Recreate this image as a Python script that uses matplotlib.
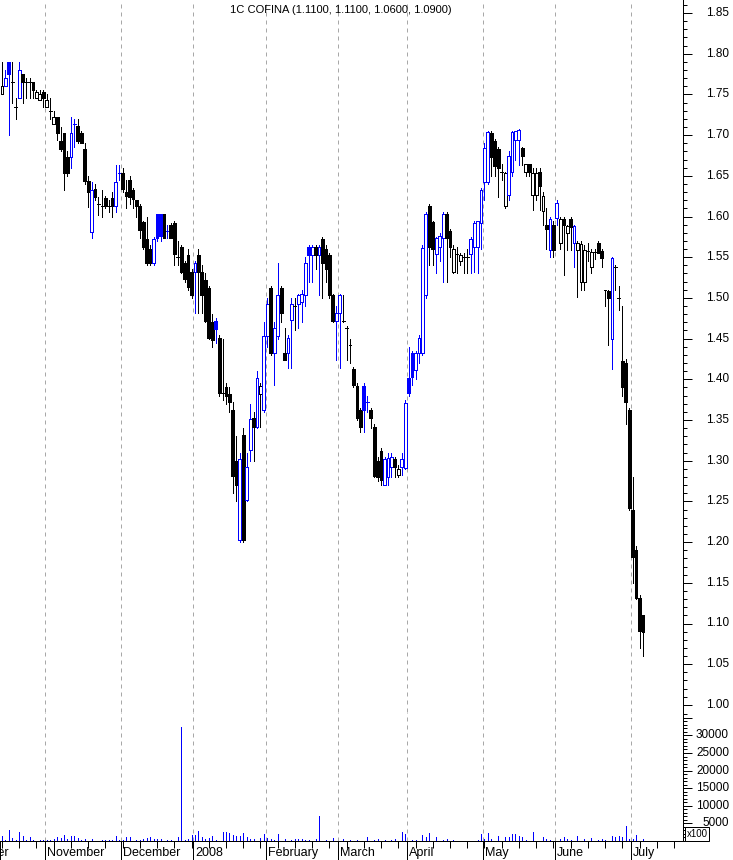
import matplotlib
matplotlib.use("Agg")
import matplotlib.pyplot as plt
from matplotlib.patches import Rectangle
from matplotlib.ticker import MultipleLocator
import matplotlib.transforms as mtransforms

# ---------------- data ----------------
title = "1C COFINA (1.1100, 1.1100, 1.0600, 1.0900)"
month_names = ["October", "November", "December", "2008", "February", "March",
               "April", "May", "June", "July"]
month_counts = [13, 22, 21, 21, 21, 20, 22, 21, 22, 4]
prev_close = 1.77

opens = [
    # Oct
    1.75, 1.76, 1.79, 1.765, 1.735, 1.745, 1.775, 1.765, 1.765, 1.765, 1.745, 1.743, 1.753,
    # Nov
    1.735, 1.73, 1.714, 1.722, 1.693, 1.703, 1.673, 1.673, 1.714, 1.711, 1.703, 1.683, 1.644,
    1.581, 1.634, 1.615, 1.613, 1.623, 1.613, 1.623, 1.613, 1.654,
    # Dec
    1.654, 1.63, 1.645, 1.633, 1.620, 1.613, 1.593, 1.572, 1.56, 1.543, 1.603, 1.603, 1.603,
    1.582, 1.59, 1.592, 1.55, 1.563, 1.543, 1.553, 1.532,
    # Jan
    1.532, 1.553, 1.532, 1.522, 1.512, 1.47, 1.472, 1.451, 1.383, 1.39, 1.382, 1.362, 1.30,
    1.203, 1.331, 1.252, 1.313, 1.352, 1.341, 1.382, 1.362,
    # Feb
    1.453, 1.512, 1.432, 1.453, 1.512, 1.432, 1.432, 1.473, 1.49, 1.492, 1.495, 1.503, 1.563,
    1.553, 1.563, 1.553, 1.572, 1.56, 1.553, 1.503, 1.472,
    # Mar
    1.482, 1.472, 1.463, 1.442, 1.413, 1.392, 1.362, 1.392, 1.372, 1.362, 1.341, 1.30, 1.312,
    1.27, 1.28, 1.292, 1.302, 1.282, 1.292, 1.291,
    # Apr
    1.402, 1.432, 1.412, 1.432, 1.432, 1.503, 1.613, 1.593, 1.554, 1.563, 1.574, 1.603, 1.582,
    1.532, 1.554, 1.545, 1.55, 1.55, 1.554, 1.563, 1.563, 1.592,
    # May
    1.642, 1.642, 1.703, 1.693, 1.683, 1.655, 1.613, 1.626, 1.655, 1.694, 1.694, 1.684, 1.655,
    1.664, 1.626, 1.626, 1.655, 1.607, 1.59, 1.559, 1.59,
    # Jun
    1.598, 1.567, 1.597, 1.58, 1.597, 1.567, 1.559, 1.519, 1.519, 1.558, 1.538, 1.556, 1.567,
    1.558, 1.51, 1.508, 1.450, 1.538, 1.50, 1.422, 1.42, 1.362,
    # Jul
    1.24, 1.19, 1.131, 1.11,
]
highs = [
    1.79, 1.78, 1.79, 1.79, 1.745, 1.79, 1.775, 1.77, 1.77, 1.765, 1.755, 1.755, 1.755,
    1.75, 1.745, 1.73, 1.722, 1.71, 1.703, 1.68, 1.722, 1.72, 1.72, 1.705, 1.69, 1.65,
    1.642, 1.64, 1.624, 1.633, 1.625, 1.62, 1.63, 1.663, 1.663,
    1.66, 1.645, 1.65, 1.635, 1.62, 1.615, 1.595, 1.60, 1.565, 1.575, 1.603, 1.603, 1.603,
    1.59, 1.592, 1.595, 1.57, 1.565, 1.545, 1.56, 1.535,
    1.545, 1.56, 1.54, 1.53, 1.515, 1.48, 1.475, 1.455, 1.45, 1.395, 1.39, 1.372, 1.33,
    1.31, 1.34, 1.31, 1.37, 1.36, 1.41, 1.395, 1.47,
    1.50, 1.515, 1.47, 1.543, 1.515, 1.463, 1.455, 1.50, 1.50, 1.505, 1.51, 1.55, 1.565,
    1.565, 1.565, 1.565, 1.575, 1.565, 1.555, 1.505, 1.49,
    1.505, 1.503, 1.465, 1.45, 1.415, 1.395, 1.365, 1.395, 1.38, 1.365, 1.345, 1.305, 1.315,
    1.305, 1.31, 1.31, 1.305, 1.295, 1.31, 1.375,
    1.44, 1.435, 1.435, 1.455, 1.565, 1.605, 1.615, 1.595, 1.575, 1.58, 1.605, 1.605, 1.585,
    1.565, 1.562, 1.555, 1.555, 1.56, 1.575, 1.595, 1.595, 1.635,
    1.69, 1.705, 1.705, 1.695, 1.685, 1.665, 1.655, 1.68, 1.705, 1.705, 1.707, 1.685, 1.665,
    1.665, 1.66, 1.66, 1.66, 1.63, 1.61, 1.60, 1.595,
    1.62, 1.60, 1.60, 1.59, 1.60, 1.59, 1.57, 1.57, 1.565, 1.567, 1.56, 1.56, 1.57,
    1.56, 1.51, 1.51, 1.55, 1.54, 1.515, 1.49, 1.425, 1.365,
    1.28, 1.195, 1.135, 1.11,
]
lows = [
    1.75, 1.76, 1.70, 1.74, 1.72, 1.745, 1.74, 1.745, 1.745, 1.745, 1.745, 1.743, 1.735,
    1.735, 1.72, 1.714, 1.694, 1.68, 1.633, 1.65, 1.66, 1.685, 1.69, 1.69, 1.64, 1.612,
    1.574, 1.62, 1.602, 1.60, 1.61, 1.605, 1.60, 1.605, 1.645,
    1.63, 1.61, 1.615, 1.61, 1.60, 1.574, 1.56, 1.54, 1.54, 1.54, 1.57, 1.57, 1.574,
    1.574, 1.574, 1.54, 1.54, 1.53, 1.52, 1.51, 1.50,
    1.482, 1.482, 1.482, 1.47, 1.45, 1.44, 1.445, 1.38, 1.375, 1.37, 1.36, 1.26, 1.25,
    1.20, 1.20, 1.25, 1.30, 1.30, 1.34, 1.341, 1.36,
    1.44, 1.43, 1.393, 1.45, 1.47, 1.424, 1.414, 1.414, 1.46, 1.463, 1.47, 1.49, 1.52,
    1.52, 1.535, 1.503, 1.50, 1.52, 1.50, 1.47, 1.424,
    1.414, 1.47, 1.424, 1.42, 1.39, 1.35, 1.335, 1.335, 1.36, 1.34, 1.28, 1.275, 1.27,
    1.27, 1.27, 1.28, 1.28, 1.28, 1.282, 1.29,
    1.38, 1.393, 1.40, 1.42, 1.43, 1.50, 1.54, 1.54, 1.53, 1.545, 1.52, 1.52, 1.55,
    1.53, 1.53, 1.54, 1.53, 1.53, 1.53, 1.532, 1.53, 1.56,
    1.62, 1.64, 1.65, 1.65, 1.624, 1.645, 1.61, 1.62, 1.65, 1.67, 1.663, 1.663, 1.65,
    1.65, 1.608, 1.62, 1.608, 1.59, 1.56, 1.55, 1.55,
    1.59, 1.56, 1.528, 1.559, 1.559, 1.538, 1.501, 1.51, 1.51, 1.545, 1.53, 1.548, 1.555,
    1.538, 1.49, 1.442, 1.413, 1.51, 1.485, 1.38, 1.345, 1.24,
    1.15, 1.13, 1.07, 1.06,
]
closes = [
    1.76, 1.77, 1.775, 1.765, 1.735, 1.78, 1.765, 1.765, 1.765, 1.755, 1.753, 1.75, 1.745,
    1.743, 1.73, 1.722, 1.703, 1.683, 1.654, 1.654, 1.703, 1.714, 1.693, 1.69, 1.644, 1.630,
    1.633, 1.624, 1.615, 1.613, 1.613, 1.613, 1.613, 1.642, 1.654,
    1.634, 1.625, 1.624, 1.622, 1.613, 1.583, 1.562, 1.543, 1.543, 1.572, 1.574, 1.576, 1.574,
    1.582, 1.574, 1.554, 1.55, 1.532, 1.523, 1.513, 1.503,
    1.543, 1.532, 1.503, 1.472, 1.451, 1.448, 1.462, 1.383, 1.383, 1.38, 1.372, 1.281, 1.27,
    1.302, 1.203, 1.292, 1.351, 1.341, 1.402, 1.392, 1.453,
    1.492, 1.432, 1.463, 1.503, 1.482, 1.424, 1.451, 1.492, 1.49, 1.503, 1.505, 1.543, 1.553,
    1.563, 1.553, 1.563, 1.543, 1.535, 1.503, 1.472, 1.482,
    1.503, 1.472, 1.463, 1.442, 1.393, 1.352, 1.341, 1.362, 1.372, 1.352, 1.281, 1.28, 1.276,
    1.302, 1.303, 1.304, 1.292, 1.29, 1.302, 1.371,
    1.383, 1.403, 1.432, 1.451, 1.561, 1.603, 1.563, 1.56, 1.574, 1.576, 1.603, 1.574, 1.563,
    1.56, 1.554, 1.553, 1.55, 1.55, 1.572, 1.592, 1.594, 1.633,
    1.684, 1.704, 1.673, 1.662, 1.66, 1.655, 1.653, 1.674, 1.704, 1.705, 1.706, 1.674, 1.664,
    1.655, 1.654, 1.653, 1.637, 1.625, 1.585, 1.597, 1.559,
    1.617, 1.597, 1.589, 1.588, 1.587, 1.588, 1.567, 1.566, 1.559, 1.558, 1.557, 1.556, 1.555,
    1.549, 1.51, 1.50, 1.549, 1.538, 1.50, 1.39, 1.372, 1.242,
    1.182, 1.131, 1.091, 1.09,
]
volumes = [  # units of 100 shares
    1500, 400, 3100, 900, 300, 2600, 1500, 300, 1100, 300, 0, 200, 300,
    300, 300, 600, 1100, 900, 1700, 600, 1500, 1500, 750, 300, 600, 0, 600, 0, 0,
    300, 300, 300, 300, 1400, 300,
    300, 1100, 1100, 0, 300, 300, 600, 900, 1100, 600, 600, 600, 0, 300, 300, 0,
    1100, 32500, 300, 600, 1800,
    1800, 2800, 1100, 600, 750, 1500, 300, 0, 2500, 2500, 2300, 1800, 1500, 1500,
    2300, 1100, 600, 600, 0, 950, 2000,
    750, 600, 300, 2000, 0, 600, 0, 300, 600, 600, 600, 300, 300, 0, 600, 7200,
    0, 300, 0, 850, 0,
    0, 600, 0, 300, 0, 300, 0, 0, 1100, 0, 300, 600, 0, 300, 0, 300, 600, 0, 2500, 2000,
    0, 300, 300, 0, 1800, 1100, 2300, 0, 1100, 0, 300, 600, 0, 300, 0, 0, 0, 0, 0, 0,
    300, 2000,
    600, 2300, 600, 0, 1500, 0, 1100, 1100, 2000, 2000, 1500, 1100, 300, 0, 2500, 0,
    0, 1100, 600, 300, 0,
    0, 600, 1100, 600, 300, 0, 1500, 0, 600, 0, 750, 0, 300, 600, 300, 0, 1500, 1100,
    1500, 1100, 4200, 600,
    600, 1700, 0, 600,
]
price_ticks = [1.00, 1.05, 1.10, 1.15, 1.20, 1.25, 1.30, 1.35, 1.40, 1.45, 1.50,
               1.55, 1.60, 1.65, 1.70, 1.75, 1.80, 1.85]
volume_ticks = [5000, 10000, 15000, 20000, 25000, 30000]

# ---------------- layout ----------------
plt.rcParams['font.family'] = ['Liberation Sans', 'DejaVu Sans']
W, H = 733, 860
fig = plt.figure(figsize=(W / 100, H / 100), dpi=100)
fig.patch.set_facecolor("white")

AX_R = 683
P_TOP, P_BOT = 0, 712
V_TOP, V_BOT = 712, 841
ax = fig.add_axes([0, 1 - P_BOT / H, AX_R / W, (P_BOT - P_TOP) / H])
axv = fig.add_axes([0, 1 - V_BOT / H, AX_R / W, (V_BOT - V_TOP) / H], sharex=ax)

n = len(closes)
BLUE = "#0000ff"
BLACK = "#000000"
LW = 0.72          # one pixel at 100 dpi
bw = 0.82
for i in range(n):
    o, h, l, c = opens[i], highs[i], lows[i], closes[i]
    pc = prev_close if i == 0 else closes[i - 1]
    col = BLUE if c > pc else BLACK
    ax.vlines(i, l, h, color=col, lw=LW, zorder=1, antialiased=False)
    if abs(c - o) < 1e-9:
        ax.hlines(c, i - bw / 2, i + bw / 2, color=col, lw=LW, zorder=2,
                  antialiased=False)
    else:
        face = "white" if c > o else col
        ax.add_patch(Rectangle((i - bw / 2, min(o, c)), bw, abs(c - o),
                               facecolor=face, edgecolor=col, lw=LW, zorder=2,
                               antialiased=False))

axv.vlines(range(n), 0, volumes, color=BLUE, lw=LW, antialiased=False)

px_per_bar = 3.446
ax.set_xlim(-2 / px_per_bar, (AX_R - 2) / px_per_bar)
# price scale: 0.05 per 40.7 px, 1.85 at y=13
pp = 0.05 / 40.7
ax.set_ylim(1.85 - (P_BOT - 13) * pp, 1.85 + 13 * pp)
axv.set_ylim(0, (V_BOT - V_TOP) / 17.6 * 5000)

# month boundaries
starts = []
s = 0
for cnt in month_counts:
    starts.append(s)
    s += cnt
grid_kw = dict(color="#a8a8a8", lw=LW, linestyle=(0, (4, 4)), zorder=0)
for st in starts[1:]:
    ax.axvline(st - 0.5, **grid_kw)
    axv.axvline(st - 0.5, **grid_kw)

for a in (ax, axv):
    a.set_facecolor("white")
    for sp in ("top", "left"):
        a.spines[sp].set_visible(False)
    a.spines["right"].set_linewidth(LW)
ax.spines["bottom"].set_visible(False)
axv.spines["bottom"].set_linewidth(LW)

# y ticks (right)
for a, major, minor in ((ax, 0.05, 0.01), (axv, 5000, 1000)):
    a.yaxis.tick_right()
    a.yaxis.set_major_locator(MultipleLocator(major))
    a.yaxis.set_minor_locator(MultipleLocator(minor))
    a.tick_params(axis="y", which="major", length=6.5, width=LW, labelright=False,
                  labelleft=False, direction="out")
    a.tick_params(axis="y", which="minor", length=3, width=LW, direction="out")

lab_tr = mtransforms.blended_transform_factory(fig.transFigure, ax.transData)
for v in price_ticks:
    ax.text(729 / W, v, f"{v:.2f}", transform=lab_tr, ha="right", va="center",
            fontsize=8.5, clip_on=False)
vlab_tr = mtransforms.blended_transform_factory(fig.transFigure, axv.transData)
for v in volume_ticks:
    axv.text(729 / W, v, f"{v}", transform=vlab_tr, ha="right", va="center",
             fontsize=8.5, clip_on=False)
fig.text(697 / W, 1 - 834 / H, "x100", ha="center", va="center", fontsize=7,
         bbox=dict(boxstyle="square,pad=0.2", fc="white", ec="black", lw=LW))

# x axis
ax.tick_params(axis="x", which="both", bottom=False, labelbottom=False)
week_ticks = list(range(0, int((AX_R - 2) / px_per_bar) + 1, 5))
axv.set_xticks(week_ticks)
axv.tick_params(axis="x", which="major", length=5, width=LW, direction="out",
                labelbottom=False)
sep_tr = mtransforms.blended_transform_factory(axv.transData, fig.transFigure)
for st, name in zip(starts, month_names):
    xb = st - 0.5
    axv.plot([xb, xb], [1 - V_BOT / H, 0], transform=sep_tr, color="black", lw=LW,
             clip_on=False)
    if st == 0:
        fig.text(9 / W, 1 - 853 / H, name, ha="right", va="center", fontsize=9)
    else:
        axv.text(xb + 0.6, 1 - 853 / H, name, transform=sep_tr, ha="left",
                 va="center", fontsize=9, clip_on=False)

fig.text(341 / W, 1 - 10 / H, title, ha="center", va="center", fontsize=8)

fig.savefig("out.png", dpi=100, facecolor="white")
